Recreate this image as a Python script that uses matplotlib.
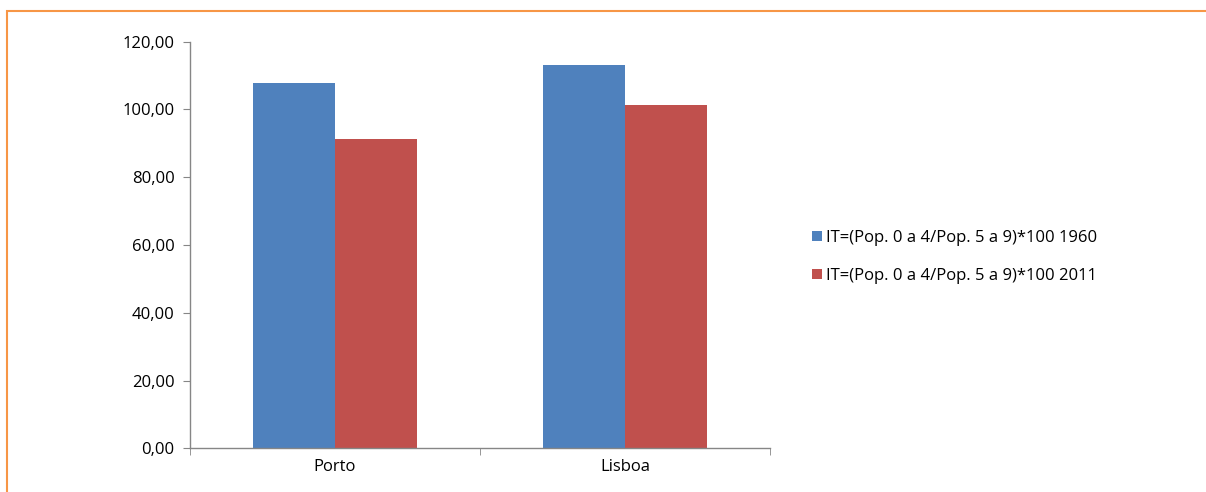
import numpy as np
import matplotlib.pyplot as plt
from matplotlib.patches import Rectangle
from matplotlib.ticker import FuncFormatter

plt.rcParams['font.family'] = ['Open Sans', 'DejaVu Sans']

# ─── Data ─────────────────────────────────────────────────────────────────────
cities = ["Porto", "Lisboa"]
it_1960 = [107.7, 113.2]
it_2011 = [91.2, 101.3]
series_labels = ["IT=(Pop. 0 a 4/Pop. 5 a 9)*100 1960",
                 "IT=(Pop. 0 a 4/Pop. 5 a 9)*100 2011"]
yticks = [0, 20, 40, 60, 80, 100, 120]

colors = ["#4F81BD", "#C0504D"]

fig = plt.figure(figsize=(12.06, 4.92), dpi=100)

# orange outer frame (right/bottom edges fall outside the image)
fig.patches.append(Rectangle((7 / 1206, -0.1), 1.2, 1 - 11 / 492 + 0.1,
                             transform=fig.transFigure, fill=False,
                             edgecolor="#F79646", linewidth=1.5))

ax = fig.add_axes([190 / 1206, 1 - 448.3 / 492, 580 / 1206, 406.6 / 492])

x = np.arange(len(cities))
w = 0.283
ax.bar(x - w / 2, it_1960, w, color=colors[0], label=series_labels[0])
ax.bar(x + w / 2, it_2011, w, color=colors[1], label=series_labels[1])

ax.set_xlim(-0.5, len(cities) - 0.5)
ax.set_ylim(0, 120)
ax.set_yticks(yticks)
ax.yaxis.set_major_formatter(FuncFormatter(lambda v, p: f"{v:.2f}".replace(".", ",")))

ax.set_xticks(x)
ax.set_xticklabels(cities)
ax.set_xticks([-0.5, 0.5, 1.5], minor=True)
ax.tick_params(axis="x", which="major", length=0, pad=8)
ax.tick_params(axis="x", which="minor", length=5, color="#868686")
ax.tick_params(axis="y", length=5, color="#868686", pad=6)
ax.tick_params(labelsize=12, labelcolor="black")

for s in ["top", "right"]:
    ax.spines[s].set_visible(False)
for s in ["left", "bottom"]:
    ax.spines[s].set_color("#868686")
    ax.spines[s].set_linewidth(1)

ax.legend(loc="center left", bbox_to_anchor=(804 / 1206, 1 - 257 / 492),
          bbox_transform=fig.transFigure, frameon=False, fontsize=12,
          handlelength=0.55, handleheight=0.55, handletextpad=0.25,
          labelspacing=1.3, borderpad=0)

fig.savefig("out.png", dpi=100)
